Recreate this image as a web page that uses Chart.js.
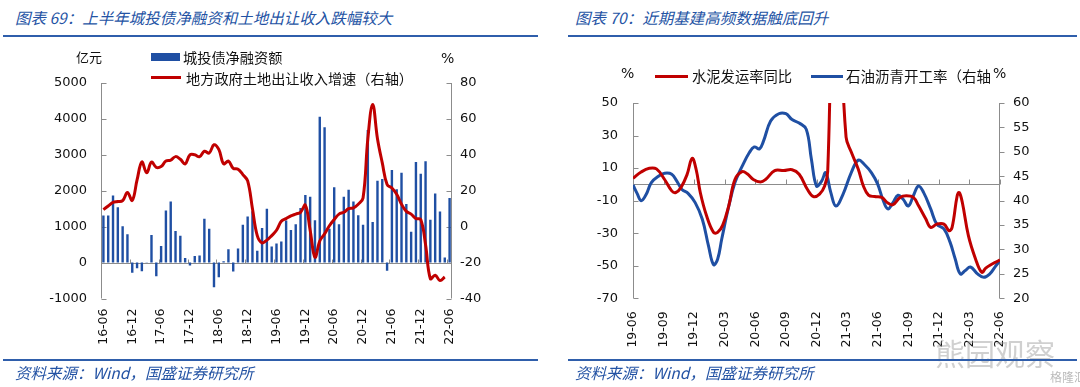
<!DOCTYPE html>
<html>
<head>
<meta charset="utf-8">
<script src="https://cdn.jsdelivr.net/npm/chart.js@4"></script>
<style>
  body { margin: 0; width: 1080px; height: 387px; position: relative; background: #fff; overflow: hidden; }
  canvas { position: absolute; top: 0; }
  .txt { position: absolute; white-space: nowrap; font-family: "Noto Sans CJK SC", "DejaVu Sans", sans-serif; color: #111; line-height: 16px; }
  .title { position: absolute; white-space: nowrap; font-family: "Noto Sans CJK SC", sans-serif; font-style: italic; font-size: 15.5px; color: #2453a4; line-height: 20px; }
  .rule { position: absolute; height: 2px; background: #2f5eab; }
  .key { position: absolute; }
</style>
</head>
<body>
<div class="title" style="left:15px;top:7px">图表 69：上半年城投债净融资和土地出让收入跌幅较大</div>
<div class="title" style="left:575px;top:7px">图表 70：近期基建高频数据触底回升</div>
<div class="rule" style="left:3px;top:35px;width:535px"></div>
<div class="rule" style="left:568px;top:35px;width:509px"></div>

<canvas id="leftChart" width="540" height="387" style="left:0"></canvas>
<canvas id="rightChart" width="540" height="387" style="left:540px"></canvas>

<!-- left legend -->
<div class="txt" style="left:76px;top:49px;font-size:13px">亿元</div>
<div class="key" style="left:151px;top:53px;width:29px;height:8px;background:#1f4fa3"></div>
<div class="txt" style="left:183px;top:49px;font-size:14.2px">城投债净融资额</div>
<div class="key" style="left:151px;top:76px;width:30px;height:3px;background:#c00000"></div>
<div class="txt" style="left:186px;top:70px;font-size:14.2px">地方政府土地出让收入增速（右轴）</div>
<div class="txt" style="left:441px;top:50px;font-size:14px;font-family:'DejaVu Sans'">%</div>

<!-- right legend -->
<div class="txt" style="left:621px;top:65px;font-size:14px;font-family:'DejaVu Sans'">%</div>
<div class="key" style="left:655px;top:75px;width:33px;height:3px;background:#c00000"></div>
<div class="txt" style="left:692px;top:68px;font-size:14.3px">水泥发运率同比</div>
<div class="key" style="left:811px;top:75px;width:32px;height:3px;background:#1f4fa3"></div>
<div class="txt" style="left:846px;top:68px;font-size:14.5px">石油沥青开工率（右轴</div>
<div class="txt" style="left:993px;top:65px;font-size:14px;font-family:'DejaVu Sans';background:#fff">%</div>

<div class="txt" style="left:935px;top:335px;font-size:30px;line-height:34px;color:rgba(150,150,150,0.45)">熊园观察</div>

<div class="rule" style="left:3px;top:359px;width:535px"></div>
<div class="rule" style="left:568px;top:359px;width:509px"></div>
<div class="title" style="left:15px;top:362px">资料来源：Wind，国盛证券研究所</div>
<div class="title" style="left:575px;top:362px">资料来源：Wind，国盛证券研究所</div>
<div class="txt" style="left:1050px;top:369px;font-size:12px;color:#bbb">格隆汇</div>

<script>
// ---------- left chart data: monthly, 2016-06 .. 2022-06 ----------
const monthLabels = [];
for (let y = 2016; y <= 2022; y++) {
    for (let m = 1; m <= 12; m++) {
        if ((y === 2016 && m < 6) || (y === 2022 && m > 6)) continue;
        monthLabels.push(String(y).slice(2) + '-' + String(m).padStart(2, '0'));
    }
}

// 城投债净融资额 (亿元)
const netFinancing = [
    1310, 1310, 1870, 1540, 1010, 790, -280, -160, -240, 10, 770, -380,
    460, 1450, 1700, 880, 750, 130, -80, 180, 200, 1220, 940, -690,
    -410, 40, 370, -250, 390, 1050, 1280, 1430, 330, 960, 1500, 450,
    530, 590, 1170, 910, 1070, 1520, 1880, 1830, 1180, 4060, 3770, 940,
    2100, 1070, 1830, 2030, 1700, 1320, 1050, 3690, 1130, 2280, 2330, -230,
    2580, 2040, 2500, 1630, 860, 2800, 2470, 2820, 1190, 1920, 1420, 140,
    1800
];

// 地方政府土地出让收入增速 (%, right axis)
const landRevenueGrowth = [
    9.5, 11.5, 13.5, 14, 14.5, 19, 14.6, 26, 36, 30, 36, 33,
    33.5, 36.5, 37, 39, 37.5, 35, 40, 40, 39, 42, 41, 45.6,
    43, 35, 36.5, 32.5, 32, 29, 25.5, 10, -5, -9, -7.5, -5,
    -2, 3, 4.5, 6, 7, 8, 12, -2, -17, -8, -4, 0.5,
    4, 7, 8, 10, 10.5, 12.5, 16, 49, 68, 49, 35.5, 23.5,
    21.5, 18, 12.5, 8.5, 7, 4.5, 4, -10, -29, -27, -30, -28,
    null
];

// ---------- right chart data: x = months since 2019-06 ----------
const rightTickLabels = ['19-06', '19-09', '19-12', '20-03', '20-06', '20-09', '20-12',
    '21-03', '21-06', '21-09', '21-12', '22-03', '22-06'];

// 水泥发运率同比 (%)
const cementX = [0, 0.8, 1.6, 2.3, 3.1, 3.8, 4.2, 4.7, 5.3, 5.8, 6.2, 6.6, 7.2, 7.9, 8.3, 8.8,
    9.4, 10, 10.7, 11.2, 11.8, 12.5, 13, 13.9, 14.8, 15.6, 16.3, 17.1, 17.7, 18.3, 18.8,
    19.1, 19.6, 20.1, 20.4, 20.9, 21.4, 22.1, 22.6, 23.1, 23.7, 24.4, 25, 25.5, 26.2, 26.8,
    27.5, 28, 28.7, 29.2, 29.8, 30.5, 31, 31.3, 31.8, 32, 32.3, 32.9, 33.6, 34.2, 34.6,
    35.1, 35.7, 36];
const cementY = [3.7, 7.6, 9.9, 9.5, 3, -4, -5, -2, 6, 16, 9, -5, -19, -29.5, -29.5, -25,
    -13, 3, 7.8, 6.5, 3, 1.5, 3, 8.5, 8.5, 9, 6.2, -3, -7.5, -6, -1,
    8, 130, 170, 95, 29, 20, 9.3, -1, -6.6, -7.5, -8, -11.5, -12.5, -8, -7,
    -8, -13, -21, -26.4, -24.4, -24.4, -28.5, -26.4, -7, -5, -11, -31.5, -45.8, -54, -51.5,
    -49.4, -47.4, -46.4];

// 石油沥青开工率 (%, right axis)
const asphaltX = [0, 0.4, 0.8, 1.3, 1.8, 2.5, 3.1, 3.8, 4.3, 4.8, 5.4, 6.1, 6.8, 7.4, 7.9, 8.3,
    8.7, 9.4, 10, 10.7, 11.4, 11.9, 12.4, 12.8, 13.5, 14.3, 15, 15.6, 16.3, 17, 17.5,
    18, 18.5, 18.9, 19.4, 19.9, 20.6, 21.4, 22.1, 22.7, 23.4, 24, 24.5, 25, 25.5, 26,
    26.5, 27, 27.5, 28, 28.5, 29.2, 29.8, 30.5, 31.1, 31.6, 32.1, 32.6, 33.1, 33.8, 34.4,
    35, 35.5, 36];
const asphaltY = [43.2, 41.5, 40, 41.3, 43.7, 45, 45.6, 45.4, 44, 42.3, 41.5, 39.6, 36.2, 30.8, 26.9, 28,
    32.1, 38.9, 43.7, 47, 49.8, 51, 50.6, 52.2, 56.3, 57.8, 57.8, 56.6, 55.9, 54.6, 48.5,
    43, 44, 45.7, 41.7, 38.9, 41.3, 45.7, 48.3, 47.4, 45.7, 43.4, 40.3, 38.3, 39.6, 41.1,
    40.3, 38.9, 41, 43, 41.7, 38.3, 35.2, 34.2, 31.5, 28.1, 25, 25.7, 26.4, 25, 24.3,
    25, 26.4, 27.7];

const tickFont = { family: 'DejaVu Sans', size: 13 };
const tickColor = '#111';
const axisGrey = '#8c8c8c';
const plainNumber = v => String(v);

// axis lines, inward ticks, zero line and its small tick marks
const leftDecor = {
    id: 'leftDecor',
    beforeDatasetsDraw(chart) {
        const { ctx, chartArea: a, scales } = chart;
        const lx = Math.round(a.left) + 0.5, rx = Math.round(a.right) - 0.5;
        const zy = Math.round(scales.y.getPixelForValue(0)) + 0.5;
        ctx.save();
        ctx.strokeStyle = axisGrey;
        ctx.lineWidth = 1;
        ctx.beginPath();
        ctx.moveTo(lx, a.top); ctx.lineTo(lx, a.bottom);
        ctx.moveTo(rx, a.top); ctx.lineTo(rx, a.bottom);
        scales.y.ticks.forEach(t => {
            const py = Math.round(scales.y.getPixelForValue(t.value)) + 0.5;
            ctx.moveTo(lx, py); ctx.lineTo(lx + 5, py);
        });
        scales.y1.ticks.forEach(t => {
            const py = Math.round(scales.y1.getPixelForValue(t.value)) + 0.5;
            ctx.moveTo(rx, py); ctx.lineTo(rx - 5, py);
        });
        ctx.moveTo(a.left, zy); ctx.lineTo(a.right, zy);
        const half = (scales.x.getPixelForValue(1) - scales.x.getPixelForValue(0)) / 2;
        for (let i = 0; i < monthLabels.length; i += 6) {
            const px = Math.round(scales.x.getPixelForValue(i) - half) + 0.5;
            ctx.moveTo(px, zy); ctx.lineTo(px, zy - 4);
        }
        ctx.stroke();
        ctx.restore();
    }
};

const rightDecor = {
    id: 'rightDecor',
    beforeDatasetsDraw(chart) {
        const { ctx, chartArea: a, scales } = chart;
        const lx = Math.round(a.left) + 0.5, rx = Math.round(a.right) - 0.5;
        const zy = Math.round(scales.y.getPixelForValue(0)) + 0.5;
        ctx.save();
        ctx.strokeStyle = axisGrey;
        ctx.lineWidth = 1;
        ctx.beginPath();
        ctx.moveTo(lx, a.top); ctx.lineTo(lx, a.bottom);
        ctx.moveTo(rx, a.top); ctx.lineTo(rx, a.bottom);
        scales.y.ticks.forEach(t => {
            const py = Math.round(scales.y.getPixelForValue(t.value)) + 0.5;
            ctx.moveTo(lx, py); ctx.lineTo(lx + 5, py);
        });
        scales.y1.ticks.forEach(t => {
            const py = Math.round(scales.y1.getPixelForValue(t.value)) + 0.5;
            ctx.moveTo(rx, py); ctx.lineTo(rx + 5, py);
        });
        ctx.moveTo(a.left, zy); ctx.lineTo(a.right, zy);
        scales.x.ticks.forEach(t => {
            const px = Math.round(scales.x.getPixelForValue(t.value)) + 0.5;
            ctx.moveTo(px, zy); ctx.lineTo(px, zy - 5);
        });
        ctx.stroke();
        ctx.restore();
    }
};

new Chart(document.getElementById('leftChart'), {
    data: {
        labels: monthLabels,
        datasets: [
            {
                type: 'line',
                label: '地方政府土地出让收入增速（右轴）',
                data: landRevenueGrowth,
                yAxisID: 'y1',
                borderColor: '#c00000',
                borderWidth: 3,
                pointRadius: 0,
                tension: 0.4,
                order: 1
            },
            {
                type: 'bar',
                label: '城投债净融资额',
                data: netFinancing,
                yAxisID: 'y',
                backgroundColor: '#1f4fa3',
                barPercentage: 0.5,
                categoryPercentage: 1,
                order: 2
            }
        ]
    },
    options: {
        responsive: false,
        animation: false,
        devicePixelRatio: 1,
        layout: { padding: { top: 83, left: 0, right: 0, bottom: 0 } },
        plugins: { legend: { display: false }, tooltip: { enabled: false } },
        scales: {
            x: {
                offset: true,
                grid: { display: false, drawTicks: false },
                border: { display: false },
                ticks: {
                    autoSkip: false, minRotation: 90, maxRotation: 90, padding: 10,
                    font: { family: 'DejaVu Sans', size: 12.5 }, color: tickColor,
                    callback: function (v, i) { return i % 6 === 0 ? this.getLabelForValue(v) : ''; }
                },
                afterFit: s => { s.height = 88.5; }
            },
            y: {
                position: 'left', min: -1000, max: 5000,
                grid: { display: false, drawTicks: false },
                border: { display: false },
                ticks: { stepSize: 1000, padding: 14, font: tickFont, color: tickColor, callback: plainNumber },
                afterFit: s => { s.width = 101; }
            },
            y1: {
                position: 'right', min: -40, max: 80,
                grid: { display: false, drawTicks: false },
                border: { display: false },
                ticks: { stepSize: 20, padding: 8, font: tickFont, color: tickColor, callback: plainNumber },
                afterFit: s => { s.width = 88; }
            }
        }
    },
    plugins: [leftDecor]
});

new Chart(document.getElementById('rightChart'), {
    type: 'line',
    data: {
        datasets: [
            {
                label: '水泥发运率同比',
                data: cementX.map((x, i) => ({ x: x, y: cementY[i] })),
                yAxisID: 'y',
                borderColor: '#c00000',
                borderWidth: 3,
                pointRadius: 0,
                tension: 0.4
            },
            {
                label: '石油沥青开工率（右轴）',
                data: asphaltX.map((x, i) => ({ x: x, y: asphaltY[i] })),
                yAxisID: 'y1',
                borderColor: '#1f4fa3',
                borderWidth: 3,
                pointRadius: 0,
                tension: 0.4
            }
        ]
    },
    options: {
        responsive: false,
        animation: false,
        devicePixelRatio: 1,
        layout: { padding: { top: 103, left: 0, right: 0, bottom: 0 } },
        plugins: { legend: { display: false }, tooltip: { enabled: false } },
        scales: {
            x: {
                type: 'linear', min: 0, max: 36,
                grid: { display: false, drawTicks: false },
                border: { display: false },
                ticks: {
                    stepSize: 3, autoSkip: false, minRotation: 90, maxRotation: 90, padding: 13,
                    font: { family: 'DejaVu Sans', size: 12.5 }, color: tickColor,
                    callback: v => rightTickLabels[Math.round(v / 3)]
                },
                afterFit: s => { s.height = 88.7; }
            },
            y: {
                position: 'left', min: -70, max: 50,
                grid: { display: false, drawTicks: false },
                border: { display: false },
                ticks: { stepSize: 20, padding: 15, font: tickFont, color: tickColor, callback: plainNumber },
                afterFit: s => { s.width = 93; }
            },
            y1: {
                position: 'right', min: 20, max: 60,
                grid: { display: false, drawTicks: false },
                border: { display: false },
                ticks: { stepSize: 5, padding: 13, font: tickFont, color: tickColor, callback: plainNumber },
                afterFit: s => { s.width = 80; }
            }
        }
    },
    plugins: [rightDecor]
});
</script>
</body>
</html>
